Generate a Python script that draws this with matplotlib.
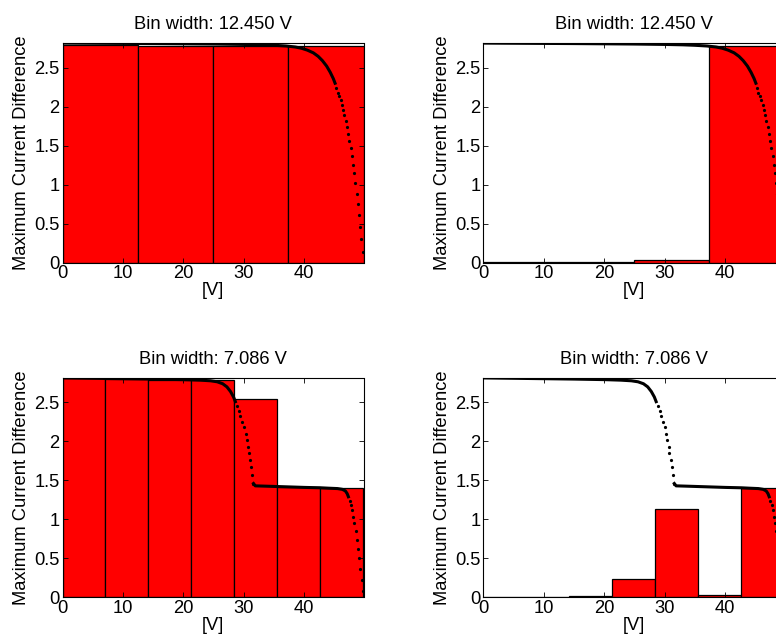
#!/usr/bin/env python
#

import numpy as np
import matplotlib
matplotlib.use('Agg')
import matplotlib.pyplot as plt

plt.rcParams['font.family'] = ['Liberation Sans', 'DejaVu Sans']

# I-V curve for the 12.450 V case (dense part looks like a solid line)
iv1_line_v = [0, 5, 10, 15, 20, 25, 30, 33, 35, 37, 38.5, 39.5, 40.5, 41.5,
              42.3, 43, 43.7, 44.3, 44.8, 45.1]
iv1_line_i = [2.815, 2.813, 2.811, 2.809, 2.806, 2.803, 2.798, 2.793, 2.787,
              2.778, 2.765, 2.75, 2.725, 2.69, 2.645, 2.59, 2.52, 2.44, 2.36, 2.30]
# sparse dots at the steep end
iv1_dot_v = [45.3, 45.5, 45.75, 46.0, 46.2, 46.45, 46.65, 46.85, 47.05, 47.25,
             47.45, 47.65, 47.85, 48.05, 48.25, 48.45, 48.65, 48.85, 49.05,
             49.25, 49.45, 49.65]
iv1_dot_i = [2.24, 2.18, 2.13, 2.08, 2.02, 1.96, 1.89, 1.82, 1.74, 1.65,
             1.56, 1.47, 1.37, 1.25, 1.15, 1.02, 0.88, 0.75, 0.61,
             0.45, 0.30, 0.13]

# I-V curve for the 7.086 V case (two steps)
iv2_line_v = [0, 5, 10, 15, 20, 22.8, 24.5, 25.6, 26.5, 27.2, 27.8, 28.3, 28.6]
iv2_line_i = [2.815, 2.81, 2.805, 2.80, 2.793, 2.786, 2.778, 2.765, 2.74,
              2.70, 2.64, 2.57, 2.51]
iv2_dot_v = [28.9, 29.2, 29.4, 29.7, 30.0, 30.3, 30.45, 30.65, 30.8, 31.05,
             31.2, 31.4, 31.6]
iv2_dot_i = [2.45, 2.39, 2.32, 2.25, 2.18, 2.10, 2.02, 1.93, 1.85, 1.76,
             1.67, 1.57, 1.46]
iv2_line2_v = [31.6, 31.9, 34, 36, 38, 40, 42.7, 44, 45.5, 46.3, 46.8, 47.1, 47.3]
iv2_line2_i = [1.46, 1.43, 1.425, 1.42, 1.415, 1.41, 1.405, 1.40, 1.395,
               1.385, 1.365, 1.33, 1.29]
iv2_dot2_v = [47.5, 47.7, 47.9, 48.1, 48.3, 48.5, 48.7, 48.9, 49.1, 49.3, 49.5, 49.7]
iv2_dot2_i = [1.24, 1.18, 1.12, 1.03, 0.95, 0.85, 0.74, 0.62, 0.50, 0.36, 0.22, 0.08]

# histogram bins and bar heights
edges_top = [0, 12.45, 24.9, 37.35, 49.8]
bars_top_left = [2.785, 2.78, 2.78, 2.775]
bars_top_right = [0.004, 0.006, 0.035, 2.78]

edges_bot = [0, 7.11, 14.22, 21.33, 28.44, 35.55, 42.66, 49.8]
bars_bot_left = [2.81, 2.795, 2.79, 2.785, 2.55, 1.415, 1.40]
bars_bot_right = [0.006, 0.005, 0.015, 0.235, 1.13, 0.03, 1.40]

titles = ['Bin width: 12.450 V', 'Bin width: 12.450 V',
          'Bin width: 7.086 V', 'Bin width: 7.086 V']

xmax = 49.8
ymax = 2.815
fs = 13.2

################################################################################

def panel(ax, edges, heights, curves, title):
    edges = np.array(edges)
    ax.bar(edges[:-1], heights, width=np.diff(edges), align='edge',
           color='#ff0000', edgecolor='black', linewidth=0.9, zorder=1)
    for v, i, style in curves:
        if style == 'line':
            ax.plot(v, i, '-', color='black', lw=2.2, zorder=3)
        else:
            ax.plot(v, i, 'o', color='black', ms=2.3, mew=0, zorder=3)
    ax.set_xlim(0, xmax)
    ax.set_ylim(0, ymax)
    ax.set_xticks([0, 10, 20, 30, 40])
    ax.set_yticks([0, 0.5, 1, 1.5, 2, 2.5])
    ax.set_yticklabels(['0', '0.5', '1', '1.5', '2', '2.5'])
    ax.tick_params(direction='in', top=True, right=True, length=3.5,
                   width=0.6, pad=2, labelsize=fs)
    for s in ax.spines.values():
        s.set_linewidth(0.8)
        s.set_zorder(4)
    ax.set_xlabel('[V]', fontsize=fs, labelpad=0)
    ax.set_ylabel('Maximum Current Difference', fontsize=fs, labelpad=3)
    ax.set_title(title, fontsize=fs, pad=10)

curves1 = [(iv1_line_v, iv1_line_i, 'line'), (iv1_dot_v, iv1_dot_i, 'dot')]
curves2 = [(iv2_line_v, iv2_line_i, 'line'), (iv2_dot_v, iv2_dot_i, 'dot'),
           (iv2_line2_v, iv2_line2_i, 'line'), (iv2_dot2_v, iv2_dot2_i, 'dot')]

fig = plt.figure(figsize=(7.76, 6.38), dpi=100)
w = 301 / 776.
h = 219.4 / 638.
ax1 = fig.add_axes([62.5 / 776., 1 - 262.5 / 638., w, h])
ax2 = fig.add_axes([483.3 / 776., 1 - 262.5 / 638., w, h])
ax3 = fig.add_axes([62.5 / 776., 1 - 597.3 / 638., w, h])
ax4 = fig.add_axes([483.3 / 776., 1 - 597.3 / 638., w, h])

panel(ax1, edges_top, bars_top_left, curves1, titles[0])
panel(ax2, edges_top, bars_top_right, curves1, titles[1])
panel(ax3, edges_bot, bars_bot_left, curves2, titles[2])
panel(ax4, edges_bot, bars_bot_right, curves2, titles[3])

plt.savefig('out.png', dpi=100)
